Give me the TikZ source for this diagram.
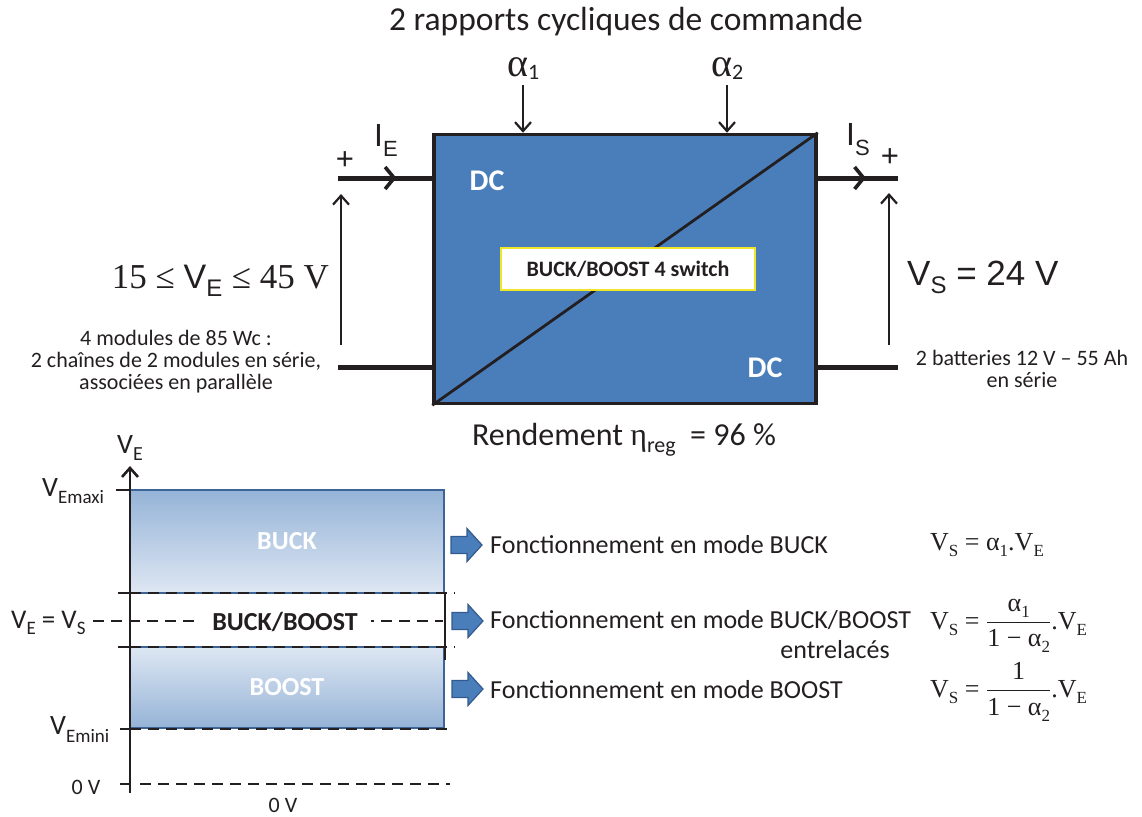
\RequirePackage{fix-cm}
\documentclass[tikz,border=0pt]{standalone}
\usepackage{amsmath}
\usepackage{fontspec}
\setmainfont{Liberation Serif}
\setsansfont{Carlito}
\newfontfamily\arial{Liberation Sans}
\usetikzlibrary{arrows.meta,decorations.markings,calc}

\definecolor{ink}{RGB}{35,31,32}
\definecolor{boxblue}{RGB}{74,126,187}
\definecolor{chartdark}{RGB}{149,179,215}
\definecolor{chartlight}{RGB}{222,231,243}
\definecolor{chartedge}{RGB}{60,100,150}
\definecolor{arrowedge}{RGB}{50,90,140}
\definecolor{swyellow}{RGB}{240,230,40}

\newcommand\fsz[1]{\fontsize{#1}{#1}\selectfont}
\newcommand\lsub[3]{\raisebox{-#2pt}{\fsz{#1}#3}}

\tikzset{
  txt/.style={font=\sffamily, inner sep=0pt, text=ink},
  wire/.style={line width=5pt, draw=ink},
  midarr/.style={postaction={decorate}, decoration={markings,
     mark=at position #1 with {\arrow[line width=3.6pt]{Straight Barb[length=9pt,width=22pt]}}}},
  varrow/.style={line width=2.2pt, draw=ink, -{Straight Barb[length=9pt,width=16pt]}},
  convbox/.style={draw=ink, line width=3.5pt, fill=boxblue, inner sep=0pt,
     minimum width=382pt, minimum height=269pt},
  swbox/.style={draw=swyellow, line width=1.8pt, fill=white, inner sep=0pt,
     minimum width=254pt, minimum height=42pt, font=\sffamily\bfseries\fsz{22}, text=ink},
  dclabel/.style={font=\sffamily\bfseries\fsz{30}, text=white, inner sep=0pt},
  chartrect/.style={draw=chartedge, line width=2.5pt, inner sep=0pt, minimum width=314pt,
     font=\sffamily\bfseries\fsz{26}, text=white},
  axisline/.style={line width=2.6pt, draw=ink, -{Straight Barb[length=9pt,width=16pt]}},
  tickline/.style={line width=2.4pt, draw=ink},
  dsh/.style={line width=2.4pt, draw=ink, dash pattern=on 11pt off 7pt},
  blockarr/.style={fill=boxblue, draw=arrowedge, line width=1.2pt},
  modetxt/.style={txt, font=\sffamily\fsz{26}, anchor=west},
  eqtxt/.style={inner sep=0pt, text=ink, font=\rmfamily\fsz{26}, anchor=west},
  plussign/.style={txt, font=\arial\fsz{31}},
  pics/barrow/.style={code={\draw[blockarr] (0,-8.5) -- (16,-8.5) -- (16,-16.5) -- (31,0)
     -- (16,16.5) -- (16,8.5) -- (0,8.5) -- cycle;}}
}

\begin{document}
\begin{tikzpicture}[x=1pt,y=-1pt]
\useasboundingbox (0,0) rectangle (1142,816);

% ---------- title and control inputs
\node[txt, font=\sffamily\fsz{33.5}] (title) at (626,22) {2 rapports cycliques de commande};
\node[txt, anchor=base west] (a1) at (507,77) {\fsz{40}\rmfamily α\sffamily\lsub{22}{2}{1}};
\node[txt, anchor=base west] (a2) at (711,77) {\fsz{40}\rmfamily α\sffamily\lsub{22}{2}{2}};

% ---------- converter
\node[convbox] (conv) at (625,269) {};
\draw[ink, line width=2.8pt] (conv.south west) -- (conv.north east);
\node[swbox] (sw) at (628,269) {BUCK/BOOST 4 switch};
\node[dclabel] (dc1) at (487,181) {DC};
\node[dclabel] (dc2) at (765,368) {DC};

\coordinate (a1t) at (523,85);
\coordinate (a2t) at (727,85);
\draw[varrow] (a1t) -- (a1t |- conv.north);
\draw[varrow] (a2t) -- (a2t |- conv.north);

% ---------- input side
\coordinate (inT) at (338,178);
\coordinate (inB) at (338,367);
\draw[wire, midarr=0.62] (inT) -- (inT -| conv.west);
\draw[wire] (inB) -- (inB -| conv.west);
\coordinate (veB) at (341,345);
\coordinate (veT) at (341,194);
\draw[varrow] (veB) -- (veT);
\node[plussign] (plusE) at (345,161) {+};
\node[txt, anchor=base west] (IE) at (374,146) {\arial\fsz{32}I\lsub{22}{10}{E}};
\node[txt, anchor=base east] (VErange) at (329,288)
  {\rmfamily\fsz{35}15 ≤ \arial\fsz{34}V\lsub{24}{8}{E} \rmfamily\fsz{35}≤ 45 V};
\node[txt, align=center, font=\sffamily\fsz{22}, text depth=0pt] (pvtxt) at (176,360)
  {4 modules de 85 Wc :\\[0pt]2 chaînes de 2 modules en série,\\[0pt]associées en parallèle};

% ---------- output side
\coordinate (outT) at (898,178);
\coordinate (outB) at (898,367);
\draw[wire, midarr=0.6] (outT -| conv.east) -- (outT);
\draw[wire] (outB -| conv.east) -- (outB);
\coordinate (vsB) at (889,345);
\coordinate (vsT) at (889,193);
\draw[varrow] (vsB) -- (vsT);
\node[plussign] (plusS) at (890,158) {+};
\node[txt, anchor=base west] (IS) at (846,145) {\arial\fsz{32}I\lsub{22}{10}{S}};
\node[txt, anchor=base west] (VS) at (907,285) {\arial\fsz{35}V\lsub{24}{8}{S} = 24 V};
\node[txt, align=center, font=\sffamily\fsz{22}] (battxt) at (1022,369)
  {2 batteries 12 V – 55 Ah\\[0pt]en série};

\node[txt, anchor=base] (rend) at (624,445)
  {\fsz{32}Rendement \rmfamily η\sffamily\lsub{22}{7}{reg}\ \ = 96 \%};

% ---------- chart
\node[chartrect, top color=chartdark, bottom color=chartlight, minimum height=103pt]
  (buck) at (287,541.5) {BUCK};
\node[chartrect, top color=chartlight, bottom color=chartdark, minimum height=81pt]
  (boost) at (287,687.5) {BOOST};

\coordinate (axB) at (130,793);
\coordinate (axT) at (130,466);
\draw[axisline] (axB) -- (axT);

\draw[tickline] (116,490) -- (130,490);
\draw[tickline] (118,593) -- (130,593);
\draw[dsh] (130,593) -- (455,593);
\draw[tickline] (118,647) -- (130,647);
\draw[dsh] (130,647) -- (455,647);
\draw[tickline] (120,729) -- (130,729);
\draw[dsh] (130,729) -- (450,729);
\draw[tickline] (120,784) -- (130,784);
\draw[dsh] (140,784) -- (450,784);
\draw[ink, line width=1.2pt] (445,593) -- (445,660);
\draw[dsh] (93,621) -- (443,621);
\node[txt, fill=white, inner xsep=13pt, inner ysep=2pt, font=\sffamily\bfseries\fsz{26}]
  (bb) at (285,622) {BUCK/BOOST};

\node[txt, anchor=base west] (vax) at (117,453) {\fsz{28}V\lsub{20}{7}{E}};
\node[txt, anchor=base west] (vmax) at (42,496) {\fsz{28}V\lsub{19}{7}{Emaxi}};
\node[txt, anchor=base west] (veqs) at (11,628) {\fsz{27}V\lsub{19}{6}{E} = V\lsub{19}{6}{S}};
\node[txt, anchor=base west] (vmin) at (50,734) {\fsz{28}V\lsub{19}{8}{Emini}};
\node[txt, font=\sffamily\fsz{22}] (zl) at (86,787) {0 V};
\node[txt, font=\sffamily\fsz{22}] (zb) at (283,805) {0 V};

% ---------- modes
\pic at (451,545) {barrow};
\pic at (452,621) {barrow};
\pic at (452,689) {barrow};
\node[modetxt] (m1) at (490,545) {Fonctionnement en mode BUCK};
\node[modetxt] (m2) at (490,620) {Fonctionnement en mode BUCK/BOOST};
\node[txt, font=\sffamily\fsz{26}] (m2b) at (835,650) {entrelacés};
\node[modetxt] (m3) at (490,690) {Fonctionnement en mode BOOST};

\node[eqtxt] (e1) at (930,545) {V\lsub{17}{6}{S} = α\lsub{17}{6}{1}.V\lsub{17}{6}{E}};
\node[eqtxt] (e2) at (930,626)
  {V\lsub{17}{6}{S} = $\dfrac{\text{α\lsub{17}{6}{1}}}{\text{1 − α\lsub{17}{6}{2}}}$.V\lsub{17}{6}{E}};
\node[eqtxt] (e3) at (930,692)
  {V\lsub{17}{6}{S} = $\dfrac{\text{1}}{\text{1 − α\lsub{17}{6}{2}}}$.V\lsub{17}{6}{E}};
\end{tikzpicture}
\end{document}
